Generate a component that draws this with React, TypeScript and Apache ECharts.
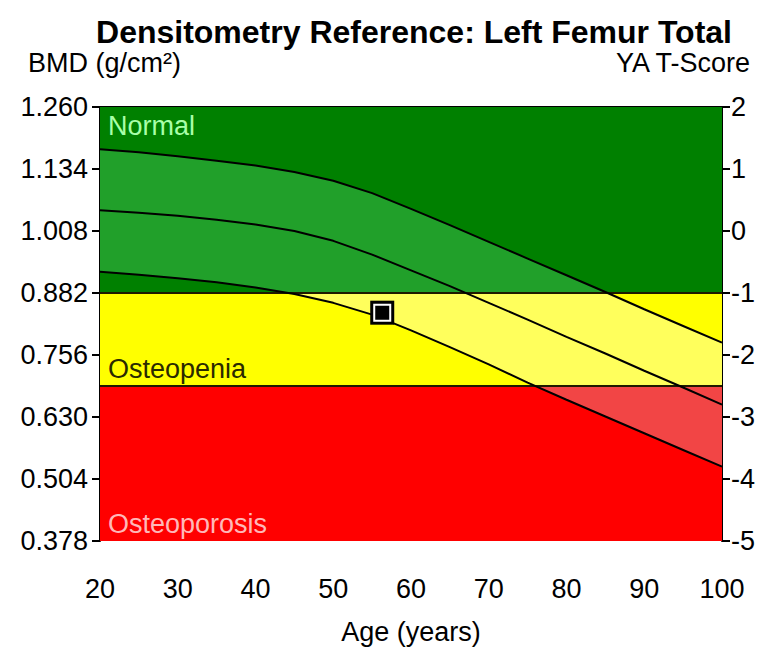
import React, { useEffect, useRef } from "react";
import * as echarts from "echarts";

// ---- data ----
const ages = [20, 25, 30, 35, 40, 45, 50, 55, 60, 65, 70, 75, 80, 85, 90, 95, 100];
const upperBmd = [1.174, 1.168, 1.160, 1.151, 1.141, 1.128, 1.110, 1.085, 1.053, 1.020, 0.986, 0.952, 0.918, 0.884, 0.849, 0.815, 0.781];
const meanBmd = [1.050, 1.045, 1.039, 1.031, 1.021, 1.008, 0.988, 0.960, 0.928, 0.896, 0.862, 0.828, 0.793, 0.759, 0.724, 0.690, 0.655];
const lowerBmd = [0.925, 0.919, 0.912, 0.904, 0.893, 0.880, 0.862, 0.838, 0.806, 0.772, 0.737, 0.700, 0.665, 0.631, 0.597, 0.563, 0.529];

const patientAge = [56.3];
const patientBmd = [0.842];

// zones listed from top to bottom
const zoneNames = ["Normal", "Osteopenia", "Osteoporosis"];
const zoneHigh = [1.26, 0.882, 0.693];
const zoneLow = [0.882, 0.693, 0.378];
const zoneColors = ["#008000", "#ffff00", "#ff0000"];
const zoneBandColors = ["#21a02a", "#ffff5c", "#f24545"];
const zoneLabelColors = ["#a8ffa8", "#2a2a00", "#ffb8b8"];

const bmdMin = 0.378;
const bmdMax = 1.26;
const bmdStep = 0.126;
const tMin = -5;
const tMax = 2;
const tStep = 1;
const ageMin = 20;
const ageMax = 100;
const ageStep = 10;

const titleText = "Densitometry Reference: Left Femur Total";
const leftHeader = "BMD (g/cm\u00b2)";
const rightHeader = "YA T-Score";
const xName = "Age (years)";

const FONT = "'Liberation Sans', Arial, sans-serif";

export default function App() {
  const ref = useRef<HTMLDivElement | null>(null);

  useEffect(() => {
    if (!ref.current) return;
    const chart = echarts.init(ref.current, undefined, { renderer: "svg" });

    const pair = (ys: number[]) => ages.map((a, i) => [a, ys[i]]);
    const curve = (name: string, ys: number[]) => ({
      type: "line",
      name,
      data: pair(ys),
      symbol: "none",
      silent: true,
      z: 4,
      lineStyle: { color: "#000", width: 2 },
    });

    const renderZones = (params: any, api: any) => {
      if (params.dataIndex !== 0) return null;
      const children: any[] = [];
      const yTop = api.coord([ageMin, bmdMax])[1];
      const yBot = api.coord([ageMin, bmdMin])[1];
      const off = (v: number) => (api.coord([ageMin, v])[1] - yTop) / (yBot - yTop);

      // background zones
      zoneNames.forEach((name, i) => {
        const p1 = api.coord([ageMin, zoneHigh[i]]);
        const p2 = api.coord([ageMax, zoneLow[i]]);
        children.push({
          type: "rect",
          shape: { x: p1[0], y: p1[1], width: p2[0] - p1[0], height: p2[1] - p1[1] },
          style: { fill: zoneColors[i] },
          z2: 1,
        });
      });

      // band between upper and lower curves, coloured per zone
      const stops: any[] = [];
      zoneNames.forEach((_, i) => {
        stops.push({ offset: off(zoneHigh[i]), color: zoneBandColors[i] });
        stops.push({ offset: off(zoneLow[i]), color: zoneBandColors[i] });
      });
      const pts = ages.map((a, i) => api.coord([a, upperBmd[i]]));
      for (let i = ages.length - 1; i >= 0; i--) pts.push(api.coord([ages[i], lowerBmd[i]]));
      children.push({
        type: "polygon",
        shape: { points: pts },
        style: { fill: new echarts.graphic.LinearGradient(0, yTop, 0, yBot, stops, true) },
        z2: 2,
      });

      // zone boundary lines
      zoneLow.slice(0, zoneLow.length - 1).forEach((v) => {
        const a = api.coord([ageMin, v]);
        const b = api.coord([ageMax, v]);
        children.push({
          type: "line",
          shape: { x1: a[0], y1: a[1], x2: b[0], y2: b[1] },
          style: { stroke: "#1f1a00", lineWidth: 2 },
          z2: 3,
        });
      });

      // zone labels
      zoneNames.forEach((name, i) => {
        const topLeft = api.coord([ageMin, zoneHigh[i]]);
        const botLeft = api.coord([ageMin, zoneLow[i]]);
        const isTop = i === 0;
        children.push({
          type: "text",
          x: topLeft[0] + 8,
          y: isTop ? topLeft[1] + 5 : botLeft[1] - 4,
          style: {
            text: name,
            fill: zoneLabelColors[i],
            fontFamily: FONT,
            fontSize: 27,
            align: "left",
            verticalAlign: isTop ? "top" : "bottom",
          },
          z2: 4,
        });
      });

      return { type: "group", children };
    };

    const option: any = {
      animation: false,
      grid: { left: 100, top: 107, width: 622, height: 443, containLabel: false },
      graphic: [
        {
          type: "text",
          x: 414,
          y: 16,
          style: {
            text: titleText,
            fontFamily: FONT,
            fontWeight: "bold",
            fontSize: 32,
            fill: "#000",
            align: "center",
            verticalAlign: "top",
          },
        },
        {
          type: "text",
          x: 28,
          y: 49,
          style: { text: leftHeader, fontFamily: FONT, fontSize: 27, fill: "#000", align: "left", verticalAlign: "top" },
        },
        {
          type: "text",
          x: 750,
          y: 49,
          style: { text: rightHeader, fontFamily: FONT, fontSize: 27, fill: "#000", align: "right", verticalAlign: "top" },
        },
      ],
      xAxis: [
        {
          type: "value",
          min: ageMin,
          max: ageMax,
          interval: ageStep,
          position: "bottom",
          name: xName,
          nameLocation: "middle",
          nameGap: 77,
          nameTextStyle: { fontFamily: FONT, fontSize: 27, color: "#000" },
          axisLine: { show: true, lineStyle: { color: "#000", width: 2 } },
          axisTick: { show: true, inside: false, length: 7, lineStyle: { color: "#000", width: 2 } },
          minorTick: { show: true, splitNumber: 2, length: 7, lineStyle: { color: "#000", width: 2 } },
          axisLabel: { fontFamily: FONT, fontSize: 27, color: "#000", margin: 34 },
          splitLine: { show: false },
        },
        {
          type: "value",
          min: ageMin,
          max: ageMax,
          position: "top",
          axisLine: { show: true, lineStyle: { color: "#000", width: 2 } },
          axisTick: { show: false },
          axisLabel: { show: false },
          splitLine: { show: false },
        },
      ],
      yAxis: [
        {
          type: "value",
          min: bmdMin,
          max: bmdMax,
          interval: bmdStep,
          position: "left",
          axisLine: { show: true, lineStyle: { color: "#000", width: 2 } },
          axisTick: { show: true, length: 8, lineStyle: { color: "#000", width: 2 } },
          axisLabel: {
            fontFamily: FONT,
            fontSize: 27,
            color: "#000",
            margin: 12,
            formatter: (v: number) => v.toFixed(3),
          },
          splitLine: { show: false },
        },
        {
          type: "value",
          min: tMin,
          max: tMax,
          interval: tStep,
          position: "right",
          axisLine: { show: true, lineStyle: { color: "#000", width: 2 } },
          axisTick: { show: true, length: 8, lineStyle: { color: "#000", width: 2 } },
          axisLabel: { fontFamily: FONT, fontSize: 27, color: "#000", margin: 9 },
          splitLine: { show: false },
        },
      ],
      series: [
        {
          type: "custom",
          name: "zones",
          data: [[ageMin, bmdMin]],
          encode: { x: 0, y: 1 },
          renderItem: renderZones,
          silent: true,
          clip: true,
          z: 2,
        },
        curve("upper", upperBmd),
        curve("mean", meanBmd),
        curve("lower", lowerBmd),
        {
          type: "scatter",
          name: "patientFrame",
          data: patientAge.map((a, i) => [a, patientBmd[i]]),
          symbol: "rect",
          symbolSize: 24,
          silent: true,
          z: 10,
          itemStyle: { color: "#000", opacity: 1 },
        },
        {
          type: "scatter",
          name: "patient",
          data: patientAge.map((a, i) => [a, patientBmd[i]]),
          symbol: "rect",
          symbolSize: 16,
          silent: true,
          z: 11,
          itemStyle: { color: "#000", borderColor: "#fff", borderWidth: 2, opacity: 1 },
        },
      ],
    };

    chart.setOption(option);
    return () => chart.dispose();
  }, []);

  return <div ref={ref} style={{ width: 765, height: 650, position: "absolute", left: 0, top: 0, background: "#fff" }} />;
}
